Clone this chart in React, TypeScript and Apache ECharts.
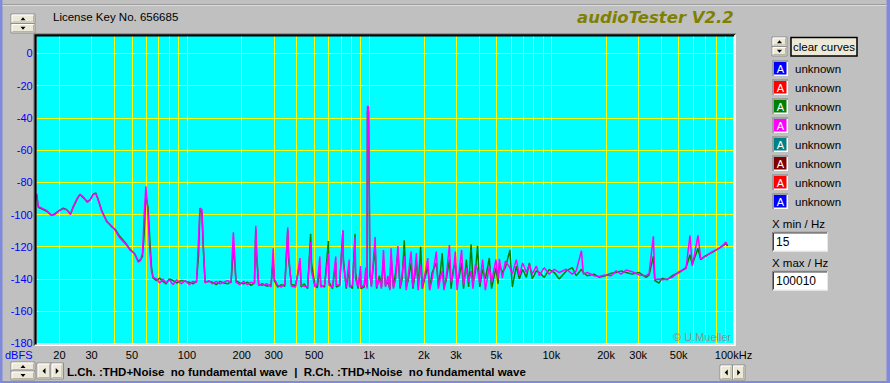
import React, { useEffect, useRef } from 'react';
import * as echarts from 'echarts';

// ---- data (frequency in Hz, level in dBFS) ----
const freqHz = [
  15, 15.3, 16.3, 17, 18.1, 18.9, 20, 21, 21.9, 23, 23.8, 25, 25.9, 27, 28.4, 29.4, 30.6, 31.6, 32.6, 34.1,
  36.3, 38.6, 40.3, 42.5, 46.7, 48.7, 51.8, 54.1, 55.7, 57.1, 58.3, 59.6, 61.3, 62.6, 64, 65.3, 68.2, 71, 74, 77,
  80, 84, 88, 93, 98, 103, 108, 113, 116, 118, 121, 123, 126, 132, 138, 145, 152, 160, 168, 175,
  178, 180, 182, 186, 195, 205, 215, 225, 235, 239, 242, 248, 260, 275, 290, 298, 302, 315, 330, 345,
  358, 362, 375, 395, 418, 424, 440, 460, 478, 483, 505, 520, 537, 543, 570, 598, 603, 630, 657, 662,
  690, 718, 723, 750, 778, 782, 810, 838, 843, 870, 898, 903, 940, 960, 975, 980, 995, 1003, 1010, 1030,
  1080, 1100, 1140, 1170, 1200, 1230, 1270, 1300, 1320, 1360, 1400, 1440, 1480, 1520, 1560, 1600, 1640, 1700, 1740, 1780,
  1820, 1860, 1920, 1960, 2020, 2100, 2150, 2220, 2340, 2400, 2460, 2520, 2580, 2650, 2760, 2820, 2900, 2975, 3040, 3120,
  3220, 3300, 3420, 3520, 3630, 3720, 3830, 3940, 4050, 4200, 4350, 4570, 4700, 4970, 5100, 5190, 5390, 5600, 5930, 6110,
  6430, 6680, 6960, 7300, 7580, 7860, 8280, 8600, 9150, 9740, 10390, 11060, 12080, 13040, 13710, 14640, 15000, 15750, 17200, 18300,
  19760, 21330, 22700, 24190, 25760, 27770, 30360, 33160, 34440, 36330, 37000, 39070, 40550, 43220, 46000, 50280, 54880, 57710, 59400, 63870,
  66080, 70370, 76470, 83210, 88630, 90550, 92880,
];

// magenta curve
const channelMagenta = [
  -87, -95, -96.5, -97.5, -100.5, -100, -97.5, -96.5, -97, -100, -95, -90, -87.5, -89, -92.5, -91, -87.5, -87, -91, -98,
  -104.5, -107, -109.5, -114, -119, -122, -124.5, -129.5, -128.5, -124, -101, -82.5, -101, -122, -135.5, -139, -140, -142.5, -140, -142.5,
  -140.5, -143.5, -140.5, -143, -141, -143.5, -141.5, -142, -115, -96, -97, -118, -142.5, -141, -143, -141.5, -143, -142, -141, -142.5,
  -122, -111, -120, -142, -143.5, -141.5, -143.5, -142, -143, -107, -125, -143.5, -144, -143, -145, -121, -140, -144, -145, -143,
  -108, -125, -144.5, -145, -127, -144, -144.5, -145, -117, -135, -145, -143, -126, -145, -144, -124, -144, -145, -126, -144,
  -143.5, -110, -130, -145, -128, -145, -144, -114, -140, -145, -132, -145, -144, -133, -146, -33, -33, -85, -135, -145,
  -114, -145, -140, -146, -122, -145, -138, -147, -121, -146, -140, -119.5, -145, -137, -126, -147, -138, -123, -145, -136,
  -124, -147, -131, -145, -138, -127, -147, -140, -123, -146, -140, -135, -147, -139, -119, -142, -137, -123, -147, -136,
  -122, -144, -133, -142, -135, -146, -131, -134, -143, -128, -147, -132, -142, -128, -140, -127.5, -139.5, -129, -133, -137,
  -128, -138, -130, -136, -131, -137, -132, -138, -133, -137, -134, -136, -134, -137, -135, -122.5, -137, -136, -138, -138.5,
  -137.5, -138, -135, -137, -134.5, -135.5, -137.5, -138, -136.5, -113.5, -140.5, -140, -140.5, -140, -139, -135.5, -133.5, -113, -132, -113,
  -127.5, -126, -123, -121, -118.5, -117, -119,
];

// green curve
const channelGreen = [
  -88, -95.5, -97, -98, -100.5, -99.5, -97.5, -96, -97, -99.5, -95.5, -90.5, -87.5, -89.5, -92, -91, -87.5, -86.5, -90.5, -97.5,
  -104, -107.5, -109, -113, -118.5, -121.5, -124.5, -129, -128, -126, -112, -88, -96, -115, -133, -139.5, -141, -139.5, -141.5, -143,
  -140, -141, -142.5, -141, -141.5, -142, -143, -141.5, -125, -97, -99, -120, -142, -141.5, -142, -143.5, -141.5, -142.5, -143, -141.5,
  -130, -120, -125, -141, -142.5, -143, -142, -144, -142.5, -109, -128, -144, -143, -144.5, -143.5, -128, -141, -145, -143.5, -144.5,
  -110, -128, -143.5, -144, -130, -145, -143, -146, -112, -130, -144, -145.5, -132, -144, -145, -116.5, -142, -146, -130, -145,
  -144, -110, -128, -146, -132, -144, -146, -112, -136, -146, -135, -146, -145, -138, -145, -36, -36, -88, -138, -144,
  -120, -146, -138, -145, -128, -144, -142, -146, -126, -145, -136, -124, -146, -140, -116, -145, -141, -130, -146, -139,
  -129, -145, -120, -146, -140, -132, -146, -136, -130, -144, -136, -124, -145, -141, -128, -146, -134, -130, -143, -139,
  -130, -146, -128, -145, -118.5, -142, -136, -119.5, -145, -134, -140, -127, -146, -133, -143, -131, -136, -133, -122, -145,
  -132, -140, -134, -139, -130, -140, -135, -136, -139, -134, -136, -140, -135, -133, -138, -134, -136, -138, -137, -139,
  -138, -136.5, -136, -135, -136, -137, -136, -139, -137.5, -126, -141, -142.5, -139.5, -140.5, -138, -136, -133, -125, -131, -121,
  -128, -125.5, -123.5, -121, -119, -118, -119.5,
];

// vertical grid lines and x tick labels
const gridFreqs = [
  20, 30, 40, 50, 60, 70, 80, 90, 100, 200, 300, 400, 500, 600, 700, 800, 900, 1000,
  2000, 3000, 4000, 5000, 6000, 7000, 8000, 9000, 10000, 20000, 30000, 40000, 50000, 60000, 70000, 80000, 90000, 100000,
];
const labeledFreqs = [20, 30, 50, 100, 200, 300, 500, 1000, 2000, 3000, 5000, 10000, 20000, 30000, 50000, 100000];
const freqLabels = ['20', '30', '50', '100', '200', '300', '500', '1k', '2k', '3k', '5k', '10k', '20k', '30k', '50k', '100kHz'];

const legendColors = ['#0000ff', '#ff0000', '#008000', '#ff00ff', '#008080', '#800000', '#ff0000', '#0000ff'];
const legendNames = ['unknown', 'unknown', 'unknown', 'unknown', 'unknown', 'unknown', 'unknown', 'unknown'];

const FONT = '"Liberation Sans", Arial, sans-serif';
const FACE = '#ece9d8';

type Arrow = 'up' | 'down' | 'left' | 'right';

function button(x: number, y: number, w: number, h: number, arrow?: Arrow): any[] {
  const els: any[] = [
    { type: 'rect', shape: { x, y, width: w, height: h }, style: { fill: FACE, stroke: '#8f8f8f', lineWidth: 1 }, z: 20 },
    { type: 'polyline', shape: { points: [[x + 1, y + h - 1.5], [x + 1, y + 1], [x + w - 1.5, y + 1]] }, style: { stroke: '#ffffff', lineWidth: 1, fill: null }, z: 21 },
    { type: 'polyline', shape: { points: [[x + 1.5, y + h - 1.5], [x + w - 1.5, y + h - 1.5], [x + w - 1.5, y + 1.5]] }, style: { stroke: '#b8b4a4', lineWidth: 1, fill: null }, z: 21 },
  ];
  const cx = x + w / 2;
  const cy = y + h / 2;
  let pts: number[][] = [];
  if (arrow === 'up') pts = [[cx - 2.5, cy + 1.5], [cx + 2.5, cy + 1.5], [cx, cy - 1.5]];
  if (arrow === 'down') pts = [[cx - 2.5, cy - 1.5], [cx + 2.5, cy - 1.5], [cx, cy + 1.5]];
  if (arrow === 'left') pts = [[cx + 1.5, cy - 3], [cx + 1.5, cy + 3], [cx - 1.5, cy]];
  if (arrow === 'right') pts = [[cx - 1.5, cy - 3], [cx - 1.5, cy + 3], [cx + 1.5, cy]];
  if (pts.length) els.push({ type: 'polygon', shape: { points: pts }, style: { fill: '#000' }, z: 22 });
  return els;
}

function text(x: number, y: number, s: string, opts: any = {}): any {
  return {
    type: 'text',
    x,
    y,
    z: 25,
    style: {
      text: s,
      font: opts.font || `11px ${FONT}`,
      fill: opts.fill || '#000',
      align: opts.align || 'left',
      verticalAlign: 'middle',
    },
  };
}

function inputBox(x: number, y: number, w: number, h: number, value: string): any[] {
  return [
    { type: 'rect', shape: { x, y, width: w, height: h }, style: { fill: '#ffffff' }, z: 20 },
    { type: 'polyline', shape: { points: [[x + 0.5, y + h], [x + 0.5, y + 0.5], [x + w, y + 0.5]] }, style: { stroke: '#808080', lineWidth: 1, fill: null }, z: 21 },
    { type: 'polyline', shape: { points: [[x + 1.5, y + h - 1], [x + 1.5, y + 1.5], [x + w - 1, y + 1.5]] }, style: { stroke: '#404040', lineWidth: 1, fill: null }, z: 21 },
    { type: 'polyline', shape: { points: [[x + 1, y + h - 0.5], [x + w - 0.5, y + h - 0.5], [x + w - 0.5, y + 1]] }, style: { stroke: '#e8e8e8', lineWidth: 1, fill: null }, z: 21 },
    text(x + 4, y + h / 2 + 0.5, value, { font: `12px ${FONT}` }),
  ];
}

function legendIcon(x: number, y: number, color: string): any[] {
  return [
    { type: 'rect', shape: { x, y, width: 16, height: 16 }, style: { fill: '#a0a0a0' }, z: 20 },
    { type: 'rect', shape: { x: x + 2, y: y + 2, width: 14, height: 14 }, style: { fill: '#ffffff' }, z: 21 },
    { type: 'rect', shape: { x: x + 2, y: y + 2, width: 12.5, height: 12.5 }, style: { fill: color }, z: 22 },
    text(x + 8.3, y + 8.5, 'A', { fill: '#ffffff', align: 'center', font: `11px ${FONT}` }),
  ];
}

export default function App() {
  const ref = useRef<HTMLDivElement>(null);

  useEffect(() => {
    document.body.style.margin = '0';
    const chart = echarts.init(ref.current!, null, { renderer: 'svg', width: 890, height: 383 });

    const graphic: any[] = [];
    // window edges
    graphic.push({ type: 'rect', shape: { x: 0, y: 0, width: 2.5, height: 383 }, style: { fill: '#8089dc' }, z: 30 });
    graphic.push({ type: 'rect', shape: { x: 886.5, y: 0, width: 4, height: 383 }, style: { fill: '#8089dc' }, z: 30 });
    graphic.push({ type: 'rect', shape: { x: 0, y: 381, width: 890, height: 2 }, style: { fill: '#8089dc' }, z: 30 });
    graphic.push({ type: 'line', shape: { x1: 2.5, y1: 4.5, x2: 886.5, y2: 4.5 }, style: { stroke: '#9c9c9c', lineWidth: 1 }, z: 30 });
    graphic.push({ type: 'line', shape: { x1: 2.5, y1: 5.5, x2: 886.5, y2: 5.5 }, style: { stroke: '#dcdcdc', lineWidth: 1 }, z: 30 });

    // plot frame (sunken)
    graphic.push({ type: 'polyline', shape: { points: [[33.8, 346], [33.8, 33.8], [736, 33.8]] }, style: { stroke: '#808080', lineWidth: 1, fill: null }, z: 15 });
    graphic.push({ type: 'polyline', shape: { points: [[35.5, 345], [35.5, 35.3], [735, 35.3]] }, style: { stroke: '#000000', lineWidth: 2.2, fill: null }, z: 15 });
    graphic.push({ type: 'polyline', shape: { points: [[35, 345.2], [735, 345.2], [735, 35]] }, style: { stroke: '#ffffff', lineWidth: 1.6, fill: null }, z: 15 });

    // top-left controls
    graphic.push(...button(11, 14, 24, 9.5, 'up'));
    graphic.push(...button(11, 23.5, 24, 9.5, 'down'));
    graphic.push(text(53, 16.5, 'License Key No. 656685', { font: `11.5px ${FONT}` }));
    graphic.push(text(577, 17.5, 'audioTester V2.2', { font: `italic bold 16.5px "DejaVu Sans", sans-serif`, fill: '#808000' }));

    // right panel
    graphic.push(...button(772, 37, 15, 9.5, 'up'));
    graphic.push(...button(772, 46.5, 15, 9.5, 'down'));
    graphic.push({ type: 'rect', shape: { x: 791, y: 37.5, width: 66, height: 18.5 }, style: { fill: FACE, stroke: '#000', lineWidth: 1.5 }, z: 20 });
    graphic.push(text(824, 47, 'clear curves', { align: 'center', font: `11.5px ${FONT}` }));
    legendColors.forEach((c, i) => {
      graphic.push(...legendIcon(772, 60 + i * 19, c));
      graphic.push(text(795, 68.5 + i * 19, legendNames[i], { font: `11.5px ${FONT}` }));
    });
    graphic.push(text(772, 224, 'X min / Hz', { font: `11.5px ${FONT}` }));
    graphic.push(...inputBox(772, 231.5, 56, 20, '15'));
    graphic.push(text(772, 263, 'X max / Hz', { font: `11.5px ${FONT}` }));
    graphic.push(...inputBox(772, 270.5, 56, 20, '100010'));

    // bottom controls
    graphic.push(text(5, 355, 'dBFS', { fill: '#0000ff', font: `11px ${FONT}` }));
    graphic.push(...button(11, 362, 24, 9, 'up'));
    graphic.push(...button(11, 371, 24, 9, 'down'));
    graphic.push(...button(37, 363, 14, 16, 'left'));
    graphic.push(...button(51, 363, 12.5, 16, 'right'));
    graphic.push(text(67, 372, 'L.Ch. :THD+Noise\u00a0\u00a0no fundamental wave\u00a0 |\u00a0 R.Ch. :THD+Noise\u00a0\u00a0no fundamental wave', { font: `bold 11.5px ${FONT}` }));
    graphic.push(...button(720, 365, 12.5, 15, 'left'));
    graphic.push(...button(732.5, 365, 12.5, 15, 'right'));
    graphic.push(text(673, 336.5, '\u00a9 U.Mueller', { fill: '#a08c8c', font: `11px ${FONT}` }));

    const option: any = {
      animation: false,
      backgroundColor: '#c0c0c0',
      grid: {
        left: 36.7,
        top: 36,
        width: 696.8,
        height: 307.4,
        show: true,
        backgroundColor: '#00ffff',
        borderWidth: 0,
      },
      xAxis: {
        type: 'log',
        logBase: 10,
        min: 15,
        max: 100010,
        axisLine: { show: false },
        axisTick: { show: false },
        axisLabel: { show: false },
        splitLine: { show: false },
      },
      yAxis: {
        type: 'value',
        min: -180,
        max: 10.8,
        interval: 20,
        axisLine: { show: false },
        axisTick: { show: false },
        axisLabel: {
          color: '#0000ff',
          fontSize: 11,
          fontFamily: FONT,
          margin: 4,
          formatter: (v: number) => (v > 0 ? '' : String(v)),
        },
        splitLine: { show: true, showMaxLine: false, lineStyle: { color: '#ffff00', width: 1 } },
      },
      graphic,
      series: [
        {
          type: 'line',
          data: [],
          z: 1,
          silent: true,
          markLine: {
            z: 1,
            silent: true,
            symbol: ['none', 'none'],
            animation: false,
            lineStyle: { color: '#ffff00', width: 1, type: 'solid' },
            emphasis: { disabled: true },
            label: {
              show: true,
              position: 'start',
              distance: 6,
              formatter: '{b}',
              color: '#000',
              fontSize: 11,
              fontFamily: FONT,
            },
            data: gridFreqs.map((f) => {
              const k = labeledFreqs.indexOf(f);
              return { xAxis: f, name: k >= 0 ? freqLabels[k] : '' };
            }),
          },
        },
        {
          name: 'L',
          type: 'line',
          z: 3,
          showSymbol: false,
          silent: true,
          data: freqHz.map((f, i) => [f, channelGreen[i]]),
          lineStyle: { color: '#008000', width: 1.5 },
        },
        {
          name: 'R',
          type: 'line',
          z: 4,
          showSymbol: false,
          silent: true,
          data: freqHz.map((f, i) => [f, channelMagenta[i]]),
          lineStyle: { color: '#ff00ff', width: 1.5 },
        },
      ],
    };
    chart.setOption(option);
    return () => chart.dispose();
  }, []);

  return <div ref={ref} style={{ position: 'absolute', left: 0, top: 0, width: 890, height: 383 }} />;
}
